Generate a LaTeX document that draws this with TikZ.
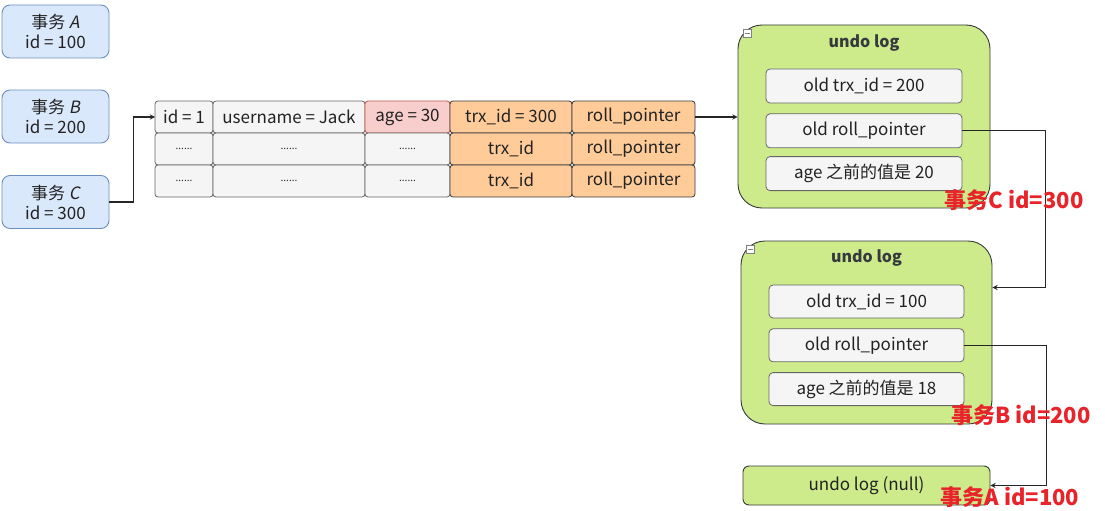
\documentclass[tikz,border=0pt]{standalone}
\usepackage{fontspec}
\setmainfont{Noto Sans CJK SC}
\newfontfamily\slantfont{Noto Sans CJK SC}[FakeSlant=0.2]
\usetikzlibrary{arrows, positioning}

\definecolor{txfill}{HTML}{DAE8FC}
\definecolor{txline}{HTML}{6C8EBF}
\definecolor{cellfill}{HTML}{F5F5F5}
\definecolor{cellline}{HTML}{666666}
\definecolor{agefill}{HTML}{F8CECC}
\definecolor{ageline}{HTML}{B85450}
\definecolor{trxfill}{HTML}{FFCC99}
\definecolor{logfill}{HTML}{CDEB8B}
\definecolor{logline}{HTML}{36393D}
\definecolor{notered}{HTML}{E8232A}
\definecolor{textgray}{HTML}{222222}

\begin{document}
\begin{tikzpicture}[
    x=1pt, y=-1pt,
    node distance=0pt,
    trx/.style={draw=txline, fill=txfill, rounded corners=8pt, line width=0.9pt, minimum width=107pt, minimum height=53pt, inner sep=0pt, align=center, text=textgray, font=\fontsize{17}{20}\selectfont},
    cell/.style={draw=cellline, fill=cellfill, rounded corners=3pt, line width=0.8pt, minimum height=32pt, inner sep=0pt, outer sep=0pt, text=textgray, font=\fontsize{17}{19}\selectfont},
    dots/.style={cell, font=\fontsize{10}{12}\selectfont},
    agecell/.style={cell, draw=ageline, fill=agefill},
    trxcell/.style={cell, draw=logline, fill=trxfill},
    log/.style={draw=logline, fill=logfill, rounded corners=24pt, line width=0.9pt, inner sep=0pt, text=textgray},
    logtitle/.style={font=\fontsize{16}{18}\selectfont\bfseries, text=logline},
    entry/.style={draw=cellline, fill=cellfill, rounded corners=4pt, line width=0.8pt, minimum width=196pt, minimum height=34pt, inner sep=0pt, text=textgray, font=\fontsize{17}{19}\selectfont},
    collapse/.style={draw=gray, fill=white, minimum size=8pt, inner sep=0pt, line width=0.5pt, path picture={\draw[gray, line width=0.8pt] ([xshift=1.5pt]path picture bounding box.west) -- ([xshift=-1.5pt]path picture bounding box.east);}},
    note/.style={text=notered, font=\fontsize{22}{24}\selectfont\bfseries, inner sep=0pt},
    arrow/.style={->, >=stealth, line width=1.3pt, draw=black!85}
]
    \useasboundingbox (0,0) rectangle (1105,511);

    % Transactions
    \node (txA) [trx] at (55.5,31.5) {事务 {\slantfont A}\\id = 100};
    \node (txB) [trx] at (55.5,116.5) {事务 {\slantfont B}\\id = 200};
    \node (txC) [trx] at (55.5,202) {事务 {\slantfont C}\\id = 300};

    % Row of the table (current version)
    \node (r1c1) [cell, minimum width=58pt] at (184,117) {id = 1};
    \node (r1c2) [cell, minimum width=152pt, right=of r1c1] {username = Jack};
    \node (r1c3) [agecell, minimum width=85pt, right=of r1c2] {age = 30};
    \node (r1c4) [trxcell, minimum width=122pt, right=of r1c3] {trx\_id = 300};
    \node (r1c5) [trxcell, minimum width=123pt, right=of r1c4] {roll\_pointer};

    \node (r2c1) [dots, minimum width=58pt, below=of r1c1] {......};
    \node (r2c2) [dots, minimum width=152pt, right=of r2c1] {......};
    \node (r2c3) [dots, minimum width=85pt, right=of r2c2] {......};
    \node (r2c4) [trxcell, minimum width=122pt, right=of r2c3] {trx\_id};
    \node (r2c5) [trxcell, minimum width=123pt, right=of r2c4] {roll\_pointer};

    \node (r3c1) [dots, minimum width=58pt, below=of r2c1] {......};
    \node (r3c2) [dots, minimum width=152pt, right=of r3c1] {......};
    \node (r3c3) [dots, minimum width=85pt, right=of r3c2] {......};
    \node (r3c4) [trxcell, minimum width=122pt, right=of r3c3] {trx\_id};
    \node (r3c5) [trxcell, minimum width=123pt, right=of r3c4] {roll\_pointer};

    % Undo log 1
    \node (log1) [log, minimum width=252pt, minimum height=183pt] at (864,116.5) {};
    \node (log1c) [collapse] at (747,33) {};
    \node (log1t) [logtitle] at (864,43) {undo log};
    \node (l1t) [entry] at (864,86) {old trx\_id = 200};
    \node (l1p) [entry, below=10pt of l1t] {old roll\_pointer};
    \node (l1a) [entry, below=8pt of l1p] {age 之前的值是 20};

    % Undo log 2
    \node (log2) [log, minimum width=251pt, minimum height=183pt] at (866.5,332.5) {};
    \node (log2c) [collapse] at (750,249) {};
    \node (log2t) [logtitle] at (866.5,258) {undo log};
    \node (l2t) [entry, minimum width=195pt, minimum height=33pt] at (866.5,301.5) {old trx\_id = 100};
    \node (l2p) [entry, minimum width=195pt, minimum height=33pt, below=10pt of l2t] {old roll\_pointer};
    \node (l2a) [entry, minimum width=195pt, minimum height=33pt, below=10pt of l2p] {age 之前的值是 18};

    % Undo log (null)
    \node (lognull) [log, rounded corners=6pt, minimum width=247pt, minimum height=39pt, font=\fontsize{17}{19}\selectfont] at (866.5,485.5) {undo log (null)};

    % Connections
    \draw [arrow] (txC.east) -- ++(24,0) |- (r1c1.west);
    \draw [arrow] (r1c5.east) -- (r1c5.east -| log1.west);
    \draw [arrow] (l1p.east) -- ++(83,0) |- ([yshift=45pt]log2.east);
    \draw [arrow] (l2p.east) -- ++(82,0) |- (lognull.east);

    % Transaction labels
    \node (noteC) [note] at (1014,200) {事务C id=300};
    \node (noteB) [note] at (1021,415) {事务B id=200};
    \node (noteA) [note] at (1010,497) {事务A id=100};
\end{tikzpicture}
\end{document}
